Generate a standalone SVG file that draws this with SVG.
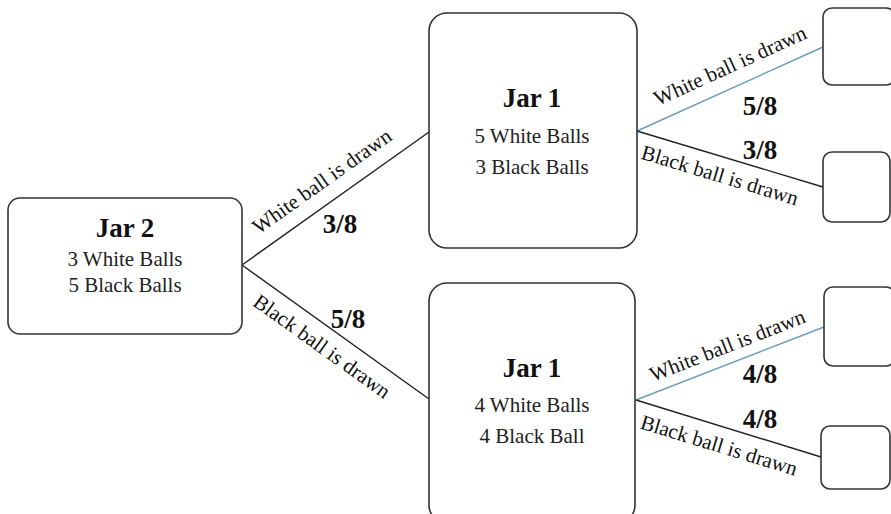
<svg xmlns="http://www.w3.org/2000/svg" width="891" height="514" viewBox="0 0 891 514">
<style>
.box{fill:#fff;stroke:#333;stroke-width:1.6}
.ttl{font-family:"Liberation Serif",serif;font-weight:bold;font-size:27px;fill:#111;text-anchor:middle}
.body{font-family:"Liberation Serif",serif;font-size:21px;fill:#222;text-anchor:middle}
.lbl{font-family:"Liberation Serif",serif;font-size:21px;fill:#111;text-anchor:middle}
.frac{font-family:"Liberation Serif",serif;font-weight:bold;font-size:27px;fill:#111;text-anchor:middle}
.ln{stroke:#222;stroke-width:1.4;fill:none}
.bl{stroke:#6a9bbb;stroke-width:1.4;fill:none}
</style>
<rect width="891" height="514" fill="#fff"/>
<g id="connectors">
<line class="ln" x1="242" y1="265" x2="429" y2="132"/>
<line class="ln" x1="242" y1="265" x2="429" y2="399"/>
<line class="bl" x1="637" y1="131" x2="823" y2="47"/>
<line class="ln" x1="637" y1="131" x2="823" y2="187"/>
<line class="bl" x1="636" y1="400" x2="824" y2="327"/>
<line class="ln" x1="636" y1="400" x2="821" y2="457"/>
<text class="lbl" transform="translate(326,187) rotate(-35.4)">White ball is drawn</text>
<text class="frac" x="340" y="233">3/8</text>
<text class="lbl" transform="translate(318,352) rotate(35.6)">Black ball is drawn</text>
<text class="frac" x="348" y="328">5/8</text>
<text class="lbl" transform="translate(733,72) rotate(-24.4)">White ball is drawn</text>
<text class="frac" x="760" y="115">5/8</text>
<text class="lbl" transform="translate(718,182) rotate(16.8)">Black ball is drawn</text>
<text class="frac" x="760" y="159">3/8</text>
<text class="lbl" transform="translate(730,352) rotate(-21.3)">White ball is drawn</text>
<text class="frac" x="760" y="383">4/8</text>
<text class="lbl" transform="translate(717,452) rotate(17)">Black ball is drawn</text>
<text class="frac" x="760" y="428">4/8</text>
</g>
<g id="jar2">
<rect class="box" x="8" y="198" width="234" height="136" rx="12"/>
<text class="ttl" x="125" y="237">Jar 2</text>
<text class="body" x="125" y="266">3 White Balls</text>
<text class="body" x="125" y="292">5 Black Balls</text>
</g>
<g id="jar1-top">
<rect class="box" x="429" y="13" width="208" height="235" rx="18"/>
<text class="ttl" x="532" y="107">Jar 1</text>
<text class="body" x="532" y="143">5 White Balls</text>
<text class="body" x="532" y="174">3 Black Balls</text>
</g>
<g id="jar1-bottom">
<rect class="box" x="429" y="283" width="206" height="240" rx="18"/>
<text class="ttl" x="532" y="377">Jar 1</text>
<text class="body" x="532" y="412">4 White Balls</text>
<text class="body" x="532" y="443">4 Black Ball</text>
</g>
<g id="out1"><rect class="box" x="823" y="8" width="72" height="77" rx="9"/></g>
<g id="out2"><rect class="box" x="823" y="152" width="67" height="70" rx="9"/></g>
<g id="out3"><rect class="box" x="824" y="287" width="71" height="79" rx="9"/></g>
<g id="out4"><rect class="box" x="821" y="426" width="69" height="63" rx="9"/></g>
</svg>
